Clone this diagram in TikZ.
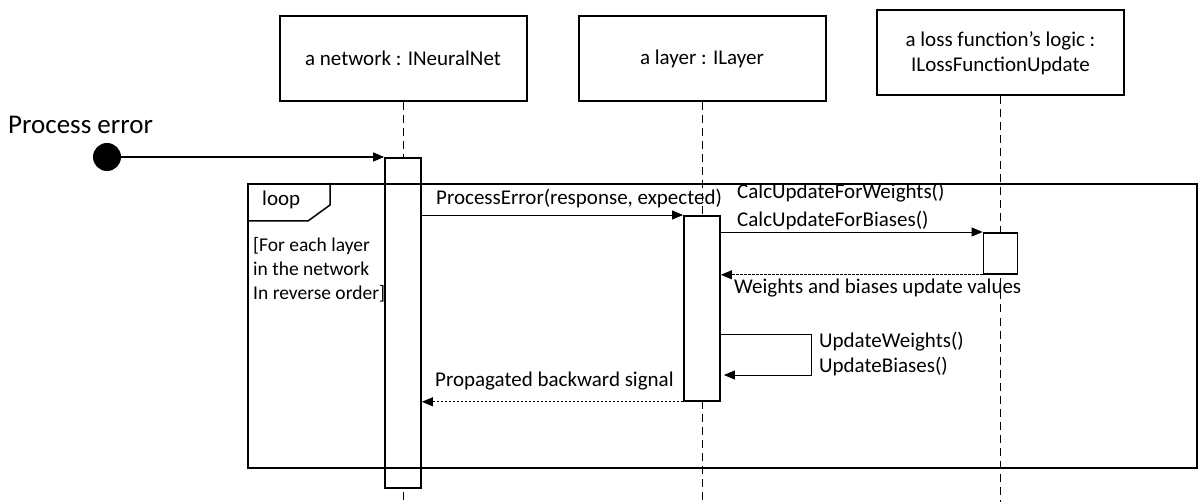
\documentclass[tikz,border=0pt]{standalone}
\usepackage{fontspec}
\setmainfont{Carlito}
\usepackage{tikz}
\usetikzlibrary{arrows.meta,calc}
\tikzset{
  obj/.style  ={draw, line width=2pt, minimum width=247pt, minimum height=85pt, align=center, font=\fontsize{21}{25}\selectfont, inner sep=4pt},
  act/.style  ={draw, fill=white, line width=1.8pt, minimum width=36pt, inner sep=0pt, anchor=north},
  life/.style ={line width=1pt, dash pattern=on 8pt off 5pt},
  msg/.style  ={-{Triangle[length=11pt,width=9pt]}, line width=0.9pt},
  ret/.style  ={msg, dash pattern=on 2.5pt off 1.5pt},
  lbl/.style  ={font=\fontsize{21}{25}\selectfont, inner sep=0pt, anchor=west},
  loopframe/.style={draw, line width=2pt, inner sep=0pt, anchor=north west}
}

\begin{document}
\begin{tikzpicture}[x=1pt, y=-1pt]
  \useasboundingbox (0,0) rectangle (1198,502);
  % lifeline heads
  \node[obj] (net)  at (403,58.5) {a network : INeuralNet};
  \node[obj] (lay)  at (702,58.5) {a layer : ILayer};
  \node[obj] (loss) at (1000.5,53) {a loss function’s logic :\\ILossFunctionUpdate};
  \coordinate (netend)  at (403,502);
  \coordinate (layend)  at (702,502);
  \coordinate (lossend) at (1000.5,502);
  \draw[life] (net.south)  -- (netend);
  \draw[life] (lay.south)  -- (layend);
  \draw[life] (loss.south) -- (lossend);
  % activations
  \node[act, minimum height=330pt] (a1) at (403,157) {};
  \node[act, minimum height=185pt] (a2) at (702,215) {};
  \node[act, minimum height=41pt, minimum width=34pt] (a3) at (1000.5,232) {};
  % loop fragment
  \node[loopframe, minimum width=949pt, minimum height=284pt] (loop) at (247,183) {};
  \draw[line width=1.5pt] (loop.north west) ++(83,0) -- ++(0,22) -- ++(-22,16) -- ++(-61,0);
  \node[lbl] (tag) at (262,200) {loop};
  \node[lbl, align=left, anchor=north west, font=\fontsize{19.5}{24}\selectfont] (guard) at (253,237) {[For each layer\\in the network\\In reverse order]};
  % found message
  \node[lbl, font=\fontsize{27}{30}\selectfont] (title) at (8,125) {Process error};
  \node[circle, fill, minimum size=28pt, inner sep=0pt] (start) at (107,157) {};
  \draw[msg, line width=1.2pt] (start) -- (a1.north west);
  % messages
  \draw[msg] (a1.east |- a2.north) -- (a2.north west);
  \node[lbl] (m1) at (436,199) {ProcessError(response, expected)};
  \draw[msg] (a2.east |- a3.north) -- (a3.north west);
  \node[lbl] (m2) at (737,193) {CalcUpdateForWeights()};
  \node[lbl] (m3) at (737,221) {CalcUpdateForBiases()};
  \draw[ret] (a3.south west) -- (a2.east |- a3.south);
  \node[lbl] (m4) at (734,288) {Weights and biases update values};
  \coordinate (selfout) at ($(a2.north east)+(0,119)$);
  \coordinate (selfin)  at ($(a2.north east)+(3,160)$);
  \draw[msg] (selfout) -- ++(91,0) |- (selfin);
  \node[lbl] (m5) at (819,342) {UpdateWeights()};
  \node[lbl] (m6) at (819,367) {UpdateBiases()};
  \draw[ret] (a2.south west) -- (a1.east |- a2.south);
  \node[lbl] (m7) at (435,381) {Propagated backward signal};
\end{tikzpicture}
\end{document}
